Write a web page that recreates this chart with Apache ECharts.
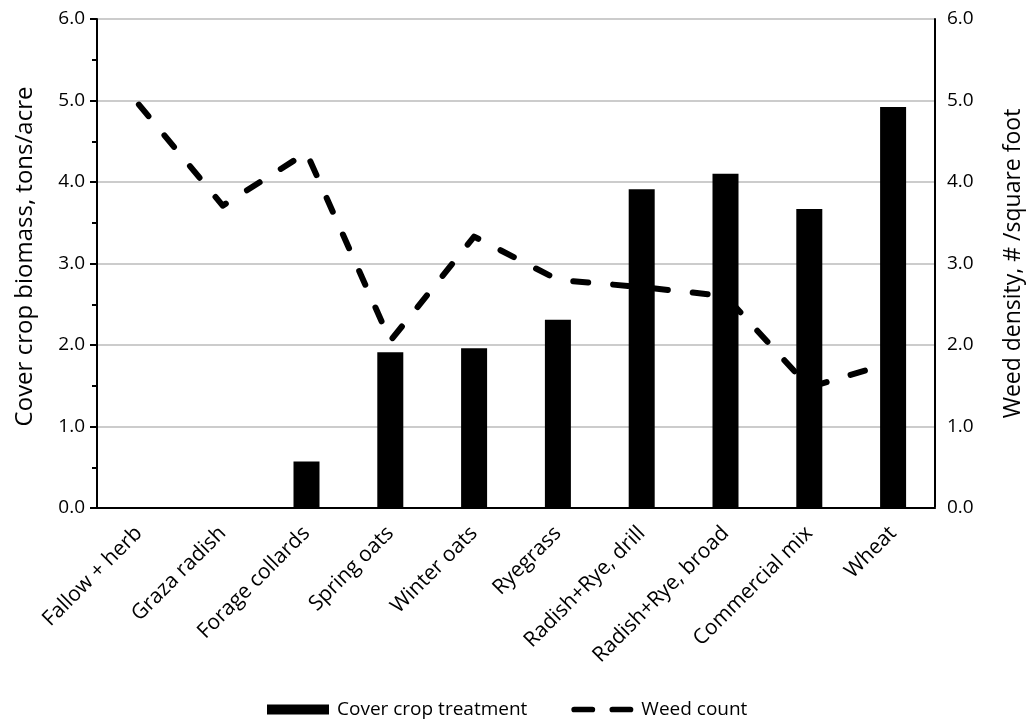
<!DOCTYPE html>
<html>
<head>
<meta charset="utf-8">
<script src="https://cdn.jsdelivr.net/npm/echarts@6/dist/echarts.min.js"></script>
<style>html,body{margin:0;padding:0;background:#fff;}#c{width:1026px;height:724px;}</style>
</head>
<body>
<div id="c"></div>
<script>
const categories = ['Fallow + herb','Graza radish','Forage collards','Spring oats','Winter oats','Ryegrass','Radish+Rye, drill','Radish+Rye, broad','Commercial mix','Wheat'];
const biomass = [null, null, 0.57, 1.91, 1.96, 2.31, 3.91, 4.10, 3.67, 4.92];
const weedCount = [4.95, 3.71, 4.36, 2.05, 3.33, 2.80, 2.71, 2.60, 1.48, 1.79];
const FONT = 'Open Sans';
const DASH_ICON = 'path://M0,-2 M65,8 M3,0 L22,0 A3,3 0 0 1 22,6 L3,6 A3,3 0 0 1 3,0 Z M43,0 L62,0 A3,3 0 0 1 62,6 L43,6 A3,3 0 0 1 43,0 Z';

const chart = echarts.init(document.getElementById('c'));
chart.setOption({
  animation: false,
  textStyle: { fontFamily: FONT, color: '#000' },
  grid: { left: 97, right: 91, top: 19, bottom: 216, outerBoundsMode: 'none', containLabel: false },
  legend: {
    bottom: 0, left: 262, itemWidth: 62, itemHeight: 10, itemGap: 44,
    textStyle: { fontFamily: FONT, fontSize: 19, color: '#000', padding: [0, 0, 0, 3] },
    data: [
      { name: 'Cover crop treatment', icon: 'rect' },
      { name: 'Weed count', icon: DASH_ICON }
    ]
  },
  xAxis: [{
    type: 'category', data: categories, position: 'bottom',
    axisLine: { lineStyle: { color: '#c8c8c8', width: 2 } },
    axisTick: { show: false },
    axisLabel: { rotate: 45, fontSize: 21, color: '#000', margin: 22, interval: 0, fontFamily: FONT, padding: [0, 0, 0, 0] }
  }, {
    type: 'category', data: categories, position: 'top',
    axisLine: { lineStyle: { color: '#000', width: 2 } },
    axisTick: { show: false }, axisLabel: { show: false }
  }],
  yAxis: [{
    type: 'value', min: 0, max: 6, interval: 1, position: 'left',
    name: 'Cover crop biomass, tons/acre', nameLocation: 'middle', nameRotate: 90, nameGap: 60,
    nameTextStyle: { fontSize: 24, color: '#000', fontFamily: FONT, padding: [0, 0, 0, 14] },
    axisLine: { show: true, lineStyle: { color: '#000', width: 2 } },
    axisTick: { show: true, length: 7, lineStyle: { color: '#000', width: 2 } },
    minorTick: { show: true, splitNumber: 2, length: 5, lineStyle: { color: '#000', width: 2 } },
    axisLabel: { fontSize: 19, color: '#000', margin: 12, formatter: v => v.toFixed(1), fontFamily: FONT },
    splitLine: { show: true, lineStyle: { color: '#cccccc', width: 2 } }
  }, {
    type: 'value', min: 0, max: 6, interval: 1, position: 'right',
    name: 'Weed density, # /square foot', nameLocation: 'middle', nameRotate: 90, nameGap: 67,
    nameTextStyle: { fontSize: 23, color: '#000', fontFamily: FONT },
    axisLine: { show: true, lineStyle: { color: '#000', width: 2 } },
    axisTick: { show: false },
    axisLabel: { fontSize: 19, color: '#000', margin: 12, formatter: v => v.toFixed(1), fontFamily: FONT },
    splitLine: { show: false }
  }],
  series: [{
    name: 'Weed count', type: 'line', yAxisIndex: 1, data: weedCount, z: 2,
    symbol: 'none', color: '#000',
    lineStyle: { color: '#000', width: 6, type: [15, 25], cap: 'round', join: 'round' }
  }, {
    name: 'Cover crop treatment', type: 'bar', yAxisIndex: 0, data: biomass, z: 3,
    barWidth: 26, itemStyle: { color: '#000' }
  }]
});
</script>
</body>
</html>
